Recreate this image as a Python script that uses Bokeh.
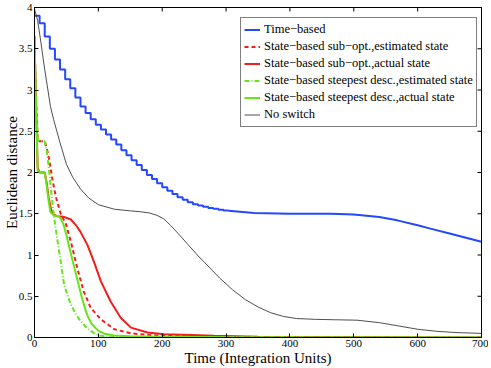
import math
from bokeh.plotting import figure
from bokeh.models import FixedTicker, Legend, LegendItem, Range1d
from bokeh.embed import file_html
from bokeh.resources import INLINE

# ---------------- data ----------------
x_ticks = [0, 100, 200, 300, 400, 500, 600, 700]
x_tick_labels = ["0", "100", "200", "300", "400", "500", "600", "700"]
y_ticks = [0, 0.5, 1, 1.5, 2, 2.5, 3, 3.5, 4]
y_tick_labels = ["0", "0.5", "1", "1.5", "2", "2.5", "3", "3.5", "4"]

series_labels = [
    "Time\u2212based",
    "State\u2212based sub\u2212opt.,estimated state",
    "State\u2212based sub\u2212opt.,actual state",
    "State\u2212based steepest desc.,estimated state",
    "State\u2212based steepest desc.,actual state",
    "No switch",
]

# Time-based (staircase part)
tb_step_t = [0, 8, 16, 24, 32, 40, 48, 56, 64, 72, 80, 88, 96, 104, 112, 120, 128, 136,
             144, 152, 160, 168, 176, 184, 192, 200, 208, 216, 224, 232, 240, 248, 256,
             264, 272, 280, 288, 296, 304]
tb_step_v = [3.90, 3.81, 3.65, 3.50, 3.37, 3.25, 3.13, 3.02, 2.91, 2.80, 2.72, 2.645, 2.58,
             2.52, 2.46, 2.40, 2.34, 2.27, 2.21, 2.15, 2.09, 2.03, 1.97, 1.92, 1.87, 1.82,
             1.78, 1.74, 1.70, 1.67, 1.64, 1.615, 1.60, 1.585, 1.57, 1.56, 1.55, 1.54, 1.535]
# Time-based (smooth tail)
tb_tail_t = [304, 344, 400, 464, 500, 540, 568, 600, 620, 650, 700]
tb_tail_v = [1.535, 1.51, 1.50, 1.50, 1.49, 1.46, 1.42, 1.36, 1.32, 1.26, 1.16]

# State-based sub-opt., estimated state
rd_t = [0, 2, 5, 8, 16, 19, 23, 28, 33, 41, 49, 57, 67, 77, 88, 104, 125, 151, 180, 200, 250, 350, 700]
rd_v = [3.65, 2.95, 2.40, 2.38, 2.38, 2.30, 2.16, 1.92, 1.72, 1.50, 1.38, 1.16, 0.84, 0.56, 0.36,
        0.22, 0.10, 0.05, 0.03, 0.02, 0.01, 0.004, 0.0]

# State-based sub-opt., actual state
rs_t = [0, 2, 5, 8, 16, 19, 22, 26, 30, 36, 45, 57, 65, 72, 83, 93, 104, 119, 135, 151, 177, 203,
        245, 281, 350, 700]
rs_v = [3.65, 2.90, 2.05, 2.0, 2.0, 1.88, 1.70, 1.55, 1.49, 1.47, 1.465, 1.43, 1.36, 1.28, 1.12,
        0.92, 0.68, 0.44, 0.24, 0.12, 0.06, 0.04, 0.03, 0.02, 0.01, 0.0]

# State-based steepest desc., estimated state
gd_t = [0, 2, 5, 8, 16, 19, 22, 25, 28, 31, 34, 37, 41, 46, 51, 57, 65, 72, 80, 88, 96, 104, 120, 150, 700]
gd_v = [3.65, 2.95, 2.40, 2.38, 2.38, 2.28, 2.08, 1.86, 1.64, 1.44, 1.28, 1.12, 0.92, 0.66, 0.52,
        0.40, 0.28, 0.20, 0.13, 0.08, 0.04, 0.02, 0.008, 0.003, 0.0]

# State-based steepest desc., actual state
gs_t = [0, 2, 5, 8, 16, 19, 22, 25, 30, 38, 41, 45, 50, 55, 60, 65, 70, 75, 80, 85, 90, 100, 110,
        125, 150, 200, 300, 700]
gs_v = [3.65, 2.90, 2.02, 2.0, 2.0, 1.85, 1.66, 1.52, 1.48, 1.47, 1.44, 1.38, 1.24, 1.08, 0.92,
        0.77, 0.61, 0.46, 0.33, 0.23, 0.16, 0.08, 0.045, 0.025, 0.015, 0.008, 0.003, 0.0]

# No switch
ns_t = [0, 5, 10, 15, 20, 25, 30, 40, 50, 60, 72, 85, 100, 125, 150, 165, 180, 192, 202, 213, 225,
        240, 255, 270, 290, 310, 330, 350, 370, 390, 410, 440, 470, 505, 540, 570, 600, 630, 660, 700]
ns_v = [3.98, 3.84, 3.58, 3.30, 3.05, 2.80, 2.64, 2.36, 2.10, 1.94, 1.80, 1.69, 1.61, 1.555, 1.535,
        1.525, 1.51, 1.48, 1.44, 1.36, 1.26, 1.13, 1.00, 0.88, 0.72, 0.58, 0.46, 0.37, 0.30, 0.255,
        0.23, 0.22, 0.215, 0.21, 0.18, 0.14, 0.10, 0.075, 0.06, 0.05]

# ---------------- styles ----------------
BLUE = "#2448ff"
RED = "#f41c1c"
GREEN = "#66e619"
BLACK = "#3a3a3a"
FONT = "Liberation Serif"

p = figure(width=488, height=368, output_backend="svg", toolbar_location=None,
           x_range=Range1d(0, 700), y_range=Range1d(0, 4),
           min_border_left=34, min_border_right=7, min_border_top=7, min_border_bottom=28)
p.background_fill_color = "white"
p.border_fill_color = "white"
p.outline_line_color = "black"
p.outline_line_width = 1
p.xgrid.visible = False
p.ygrid.visible = False

def style_axis(ax, ticks, labels):
    ax.ticker = FixedTicker(ticks=ticks)
    ax.major_label_overrides = {t: l for t, l in zip(ticks, labels)}
    ax.axis_line_color = "black"
    ax.major_tick_line_color = "black"
    ax.major_tick_in = 4
    ax.major_tick_out = 0
    ax.minor_tick_line_color = None
    ax.major_label_text_font = FONT
    ax.major_label_text_color = "black"
    ax.major_label_text_font_size = "11px"
    ax.major_label_text_line_height = 1.0
    ax.axis_label_text_font = FONT
    ax.axis_label_text_font_style = "normal"
    ax.axis_label_text_font_size = "15px"
    ax.axis_label_text_line_height = 1.0
    ax.axis_label_text_color = "black"

xa = p.xaxis[0]
style_axis(xa, x_ticks, x_tick_labels)
xa.axis_label = "Time (Integration Units)"
xa.major_label_standoff = 2
xa.axis_label_standoff = 0

ya = p.yaxis[0]
style_axis(ya, y_ticks, y_tick_labels)
ya.axis_label = "Euclidean distance"
ya.major_label_standoff = 2
ya.axis_label_standoff = -4

# inward tick marks on the top and right edges of the box
p.scatter(x_ticks, [4] * len(x_ticks), marker="dash", angle=math.pi / 2, size=8,
          line_color="black", line_width=1)
p.scatter([700] * len(y_ticks), y_ticks, marker="dash", size=8,
          line_color="black", line_width=1)

# ---------------- glyphs ----------------
r_tb = p.step(tb_step_t, tb_step_v, mode="after", line_color=BLUE, line_width=2)
p.line(tb_tail_t, tb_tail_v, line_color=BLUE, line_width=2)
r_rd = p.line(rd_t, rd_v, line_color=RED, line_width=2, line_dash="4 3")
r_rs = p.line(rs_t, rs_v, line_color=RED, line_width=2)
r_gd = p.line(gd_t, gd_v, line_color=GREEN, line_width=2, line_dash="5 2 1 2")
r_gs = p.line(gs_t, gs_v, line_color=GREEN, line_width=2)
r_ns = p.line(ns_t, ns_v, line_color=BLACK, line_width=0.9)

items = [LegendItem(label=l, renderers=[r]) for l, r in
         zip(series_labels, [r_tb, r_rd, r_rs, r_gd, r_gs, r_ns])]
legend = Legend(items=items, location=(206, 210))
legend.border_line_color = "black"
legend.border_line_width = 1
legend.background_fill_color = "white"
legend.background_fill_alpha = 1
legend.label_text_font = FONT
legend.label_text_font_size = "12.5px"
legend.label_text_color = "black"
legend.glyph_width = 16
legend.glyph_height = 17
legend.label_height = 17
legend.label_standoff = 4
legend.padding = 3
legend.spacing = 0
legend.margin = 0
p.add_layout(legend)

open("out.html", "w").write(file_html(p, INLINE))
